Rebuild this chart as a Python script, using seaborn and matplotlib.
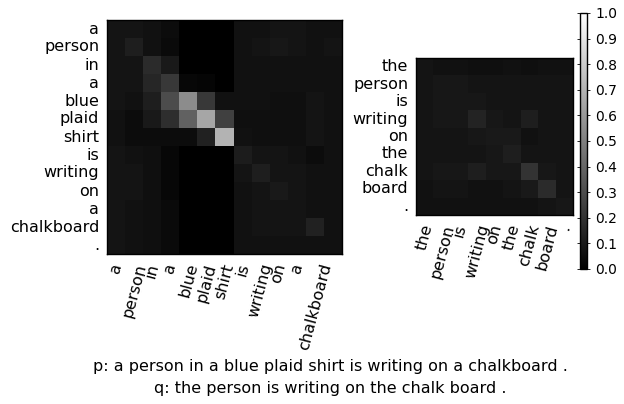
import numpy as np
import matplotlib
matplotlib.use("Agg")
import matplotlib.pyplot as plt
import seaborn as sns

# tokens
p_tokens = ["a", "person", "in", "a", "blue", "plaid", "shirt", "is",
            "writing", "on", "a", "chalkboard", "."]
q_tokens = ["the", "person", "is", "writing", "on", "the", "chalk", "board", "."]
# the left plot has no "." under the last column
p_xlabels = p_tokens[:-1] + [""]

# attention weights (rows = y tokens, cols = x tokens)
att_p = [
    [0.08, 0.08, 0.07, 0.05, 0.00, 0.00, 0.00, 0.07, 0.07, 0.08, 0.08, 0.07, 0.07],
    [0.08, 0.12, 0.07, 0.04, 0.00, 0.00, 0.00, 0.07, 0.08, 0.09, 0.08, 0.07, 0.08],
    [0.08, 0.08, 0.17, 0.10, 0.00, 0.00, 0.00, 0.07, 0.07, 0.07, 0.07, 0.07, 0.07],
    [0.08, 0.08, 0.15, 0.22, 0.03, 0.02, 0.00, 0.07, 0.07, 0.07, 0.07, 0.07, 0.07],
    [0.08, 0.07, 0.12, 0.30, 0.55, 0.22, 0.07, 0.07, 0.07, 0.06, 0.06, 0.08, 0.07],
    [0.07, 0.05, 0.10, 0.18, 0.38, 0.65, 0.25, 0.06, 0.06, 0.06, 0.06, 0.08, 0.07],
    [0.07, 0.05, 0.05, 0.05, 0.05, 0.13, 0.70, 0.07, 0.06, 0.06, 0.06, 0.08, 0.07],
    [0.08, 0.07, 0.06, 0.03, 0.00, 0.00, 0.00, 0.11, 0.08, 0.08, 0.07, 0.05, 0.07],
    [0.08, 0.08, 0.06, 0.03, 0.00, 0.00, 0.00, 0.08, 0.12, 0.08, 0.08, 0.07, 0.07],
    [0.08, 0.08, 0.06, 0.03, 0.00, 0.00, 0.00, 0.07, 0.08, 0.10, 0.08, 0.07, 0.07],
    [0.08, 0.07, 0.06, 0.04, 0.00, 0.00, 0.00, 0.07, 0.08, 0.08, 0.08, 0.07, 0.07],
    [0.08, 0.07, 0.06, 0.04, 0.00, 0.00, 0.00, 0.07, 0.08, 0.08, 0.08, 0.13, 0.07],
    [0.08, 0.07, 0.06, 0.04, 0.00, 0.00, 0.00, 0.07, 0.07, 0.07, 0.07, 0.07, 0.07],
]

att_q = [
    [0.08, 0.07, 0.07, 0.06, 0.06, 0.07, 0.06, 0.07, 0.07],
    [0.08, 0.09, 0.09, 0.08, 0.08, 0.08, 0.08, 0.08, 0.08],
    [0.08, 0.09, 0.09, 0.09, 0.08, 0.08, 0.08, 0.08, 0.08],
    [0.08, 0.09, 0.09, 0.14, 0.09, 0.08, 0.12, 0.08, 0.08],
    [0.08, 0.08, 0.08, 0.09, 0.10, 0.10, 0.07, 0.08, 0.08],
    [0.08, 0.08, 0.08, 0.08, 0.09, 0.12, 0.08, 0.08, 0.08],
    [0.08, 0.09, 0.09, 0.12, 0.09, 0.09, 0.20, 0.09, 0.08],
    [0.07, 0.08, 0.08, 0.07, 0.07, 0.08, 0.10, 0.17, 0.08],
    [0.07, 0.07, 0.07, 0.07, 0.07, 0.07, 0.07, 0.08, 0.09],
]

caption_p = "p: a person in a blue plaid shirt is writing on a chalkboard ."
caption_q = "q: the person is writing on the chalk board ."

sns.set_style("white")
plt.rcParams["font.family"] = ["DejaVu Sans"]
plt.rcParams["text.color"] = "black"
plt.rcParams["xtick.color"] = "black"
plt.rcParams["ytick.color"] = "black"

W, H = 624, 404
fig = plt.figure(figsize=(W / 100, H / 100), dpi=100)


def box(x0, y0, x1, y1):
    return [x0 / W, 1 - y1 / H, (x1 - x0) / W, (y1 - y0) / H]


ax1 = fig.add_axes(box(107, 20, 342, 254))
ax2 = fig.add_axes(box(416, 58, 573, 215))
cax = fig.add_axes(box(580, 13, 587, 269))

sns.heatmap(np.array(att_p), ax=ax1, cmap="gray", vmin=0, vmax=1, cbar=False,
            xticklabels=p_xlabels, yticklabels=p_tokens)
sns.heatmap(np.array(att_q), ax=ax2, cmap="gray", vmin=0, vmax=1, cbar=True,
            cbar_ax=cax, cbar_kws={"ticks": np.linspace(0, 1, 11)},
            xticklabels=q_tokens, yticklabels=q_tokens)

for ax in (ax1, ax2):
    for s in ax.spines.values():
        s.set_visible(True)
        s.set_color("black")
        s.set_linewidth(1.0)
    ax.tick_params(direction="in", length=4, width=0.8, color="black",
                   labelcolor="black", top=True, right=True, left=True,
                   bottom=True, labelsize=11.5, pad=5.5)
    plt.setp(ax.get_yticklabels(), rotation=0, ha="right", va="center")
    plt.setp(ax.get_xticklabels(), rotation=75, ha="center", va="top")

cb = ax2.collections[0].colorbar
cb.outline.set_visible(True)
cb.outline.set_edgecolor("black")
cb.outline.set_linewidth(1.0)
cax.tick_params(direction="in", length=7, width=0.6, color="black",
                labelcolor="black", left=True, right=True, labelsize=10, pad=6)
cax.set_yticklabels([f"{t:.1f}" for t in np.linspace(0, 1, 11)])

fig.text(330 / W, 1 - 366 / H, caption_p, ha="center", va="center", fontsize=11.5)
fig.text(330 / W, 1 - 389 / H, caption_q, ha="center", va="center", fontsize=11.5)

fig.savefig("out.png", dpi=100)
